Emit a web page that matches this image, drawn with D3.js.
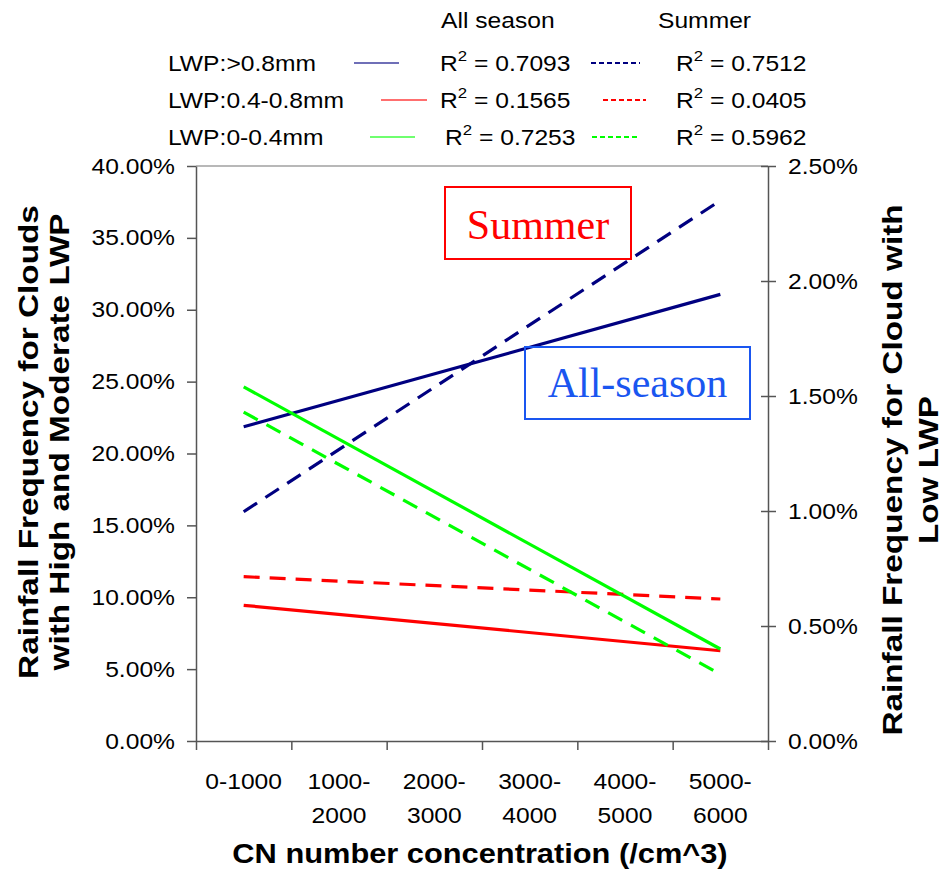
<!DOCTYPE html>
<html>
<head>
<meta charset="utf-8">
<script src="https://cdn.jsdelivr.net/npm/d3@7"></script>
<style>
  body { margin: 0; background: #fff; }
  svg { display: block; font-family: "Liberation Sans", Arial, sans-serif; }
</style>
</head>
<body>
<svg id="chart" width="951" height="870"></svg>
<script>
// categories of CN concentration
var categories = ["0-1000", "1000-2000", "2000-3000", "3000-4000", "4000-5000", "5000-6000"]
var catLines = [["0-1000"], ["1000-", "2000"], ["2000-", "3000"], ["3000-", "4000"], ["4000-", "5000"], ["5000-", "6000"]]

// trend line end points (first and last category)
var trendCats = ["0-1000", "5000-6000"]
var highAll = [0.2186, 0.3107]
var highSummer = [0.1595, 0.3760]
var modAll = [0.0944, 0.0628]
var modSummer = [0.1143, 0.0988]
var lowAll = [0.0154, 0.0040]      // right axis
var lowSummer = [0.0143, 0.0029]   // right axis

var leftTicks = [0, 0.05, 0.10, 0.15, 0.20, 0.25, 0.30, 0.35, 0.40]
var rightTicks = [0, 0.005, 0.010, 0.015, 0.020, 0.025]

var legendRows = [
    { label: "LWP:>0.8mm", color: "#000080", allR2: "0.7093", sumR2: "0.7512" },
    { label: "LWP:0.4-0.8mm", color: "#ff0000", allR2: "0.1565", sumR2: "0.0405" },
    { label: "LWP:0-0.4mm", color: "#00ff00", allR2: "0.7253", sumR2: "0.5962" }
]

var svg = d3.select("#chart")

// text in the original is a little wider than Arial
var SX = 1.12

var pLeft = 196, pRight = 768, pTop = 166, pBottom = 741

var x = d3.scaleBand().domain(categories).range([pLeft, pRight])
var xb = d3.scaleLinear().domain([0, categories.length]).range([pLeft, pRight])
var yL = d3.scaleLinear().domain([0, 0.4]).range([pBottom, pTop])
var yR = d3.scaleLinear().domain([0, 0.025]).range([pBottom, pTop])

// frame: gray top line
svg.append("line")
    .attr("x1", pLeft).attr("x2", pRight)
    .attr("y1", pTop).attr("y2", pTop)
    .attr("stroke", "#a0a0a0").attr("stroke-width", 1.5)

// left axis
var gL = svg.append("g").attr("transform", `translate(${pLeft},0)`)
    .call(d3.axisLeft(yL).tickValues(leftTicks).tickFormat(d3.format(".2%")).tickSize(9).tickSizeOuter(0))
gL.select(".domain").attr("stroke", "#555").attr("stroke-width", 1.5)
gL.selectAll(".tick line").attr("stroke", "#555").attr("stroke-width", 1.5)
gL.selectAll(".tick text")
    .attr("x", 0)
    .attr("transform", `translate(-21,0) scale(${SX},1)`)
    .style("font-size", "22px")
    .style("font-family", "'Liberation Sans', Arial, sans-serif")
    .attr("fill", "#000")

// right axis, ticks crossing
var gR = svg.append("g").attr("transform", `translate(${pRight},0)`)
    .call(d3.axisRight(yR).tickValues(rightTicks).tickFormat(d3.format(".2%")).tickSize(8).tickSizeOuter(0))
gR.select(".domain").attr("stroke", "#555").attr("stroke-width", 1.5)
gR.selectAll(".tick line").attr("x1", -7).attr("x2", 8).attr("stroke", "#555").attr("stroke-width", 1.5)
gR.selectAll(".tick text")
    .attr("x", 0)
    .attr("transform", `translate(20,0) scale(${SX},1)`)
    .style("font-size", "22px")
    .style("font-family", "'Liberation Sans', Arial, sans-serif")
    .attr("fill", "#000")

// bottom axis: ticks at band edges
var gB = svg.append("g").attr("transform", `translate(0,${pBottom})`)
    .call(d3.axisBottom(xb).ticks(categories.length).tickFormat("").tickSize(9).tickSizeOuter(0))
gB.select(".domain").attr("stroke", "#555").attr("stroke-width", 1.5)
gB.selectAll(".tick line").attr("stroke", "#555").attr("stroke-width", 1.5)

// category labels, wrapped
svg.append("g").selectAll("text")
    .data(categories)
    .join("text")
    .attr("text-anchor", "middle")
    .style("font-size", "22px")
    .attr("transform", d => `translate(${x(d) + x.bandwidth() / 2},789) scale(${SX},1)`)
    .each(function(d, i) {
        d3.select(this).selectAll("tspan")
            .data(catLines[i])
            .join("tspan")
            .attr("x", 0)
            .attr("y", (t, j) => j * 34)
            .text(t => t)
    })

// axis titles
svg.append("text")
    .attr("transform", `translate(480,863) scale(1.1,1)`)
    .attr("text-anchor", "middle")
    .style("font-size", "28px").style("font-weight", "bold")
    .text("CN number concentration (/cm^3)")

var lt = svg.append("text")
    .attr("transform", "translate(0,442) rotate(-90) scale(1.19,1)")
    .attr("text-anchor", "middle")
    .style("font-size", "28px").style("font-weight", "bold")
lt.append("tspan").attr("x", 0).attr("y", 38).text("Rainfall Frequency for Clouds")
lt.append("tspan").attr("x", 0).attr("y", 69).text("with High and Moderate LWP")

var rt = svg.append("text")
    .attr("transform", "translate(0,470) rotate(-90) scale(1.19,1)")
    .attr("text-anchor", "middle")
    .style("font-size", "28px").style("font-weight", "bold")
rt.append("tspan").attr("x", 0).attr("y", 902).text("Rainfall Frequency for Cloud with")
rt.append("tspan").attr("x", 0).attr("y", 938).text("Low LWP")

// trend lines
var cx = d => x(d) + x.bandwidth() / 2
var series = [
    { vals: highAll, scale: yL, color: "#000080", dash: null },
    { vals: highSummer, scale: yL, color: "#000080", dash: "16,10" },
    { vals: modAll, scale: yL, color: "#ff0000", dash: null },
    { vals: modSummer, scale: yL, color: "#ff0000", dash: "16,10" },
    { vals: lowAll, scale: yR, color: "#00ff00", dash: null },
    { vals: lowSummer, scale: yR, color: "#00ff00", dash: "16,10" }
]

svg.append("g").selectAll("path")
    .data(series)
    .join("path")
    .attr("fill", "none")
    .attr("stroke", d => d.color)
    .attr("stroke-width", 3.2)
    .attr("stroke-dasharray", d => d.dash)
    .attr("d", s => d3.line()
        .x((v, i) => cx(trendCats[i]))
        .y(v => s.scale(v))(s.vals))

// annotation boxes
function box(x0, y0, w, h, color, label, base) {
    svg.append("rect")
        .attr("x", x0).attr("y", y0).attr("width", w).attr("height", h)
        .attr("fill", "none").attr("stroke", color).attr("stroke-width", 2)
    svg.append("text")
        .attr("x", x0 + w / 2).attr("y", base)
        .attr("text-anchor", "middle")
        .attr("fill", color)
        .style("font-family", "'Liberation Serif', 'Times New Roman', serif")
        .style("font-size", "42px")
        .text(label)
}
box(445, 187, 186, 72, "#ff0000", "Summer", 239)
box(525, 347, 225, 72, "#1a56f0", "All-season", 397)

// legend
var LS = 22
svg.append("text").attr("transform", `translate(441,28) scale(${SX},1)`).style("font-size", LS + "px").text("All season")
svg.append("text").attr("transform", `translate(658,28) scale(${SX},1)`).style("font-size", LS + "px").text("Summer")

var lg = svg.append("g").selectAll("g")
    .data(legendRows)
    .join("g")
    .attr("transform", (d, i) => `translate(0,${63 + i * 37})`)

lg.append("text").attr("transform", `translate(168,8) scale(${SX},1)`).style("font-size", LS + "px").text(d => d.label)
lg.append("line")
    .attr("x1", (d, i) => [354, 381, 370][i]).attr("x2", (d, i) => [399, 427, 415][i])
    .attr("stroke", d => d.color).attr("stroke-width", 1.6).attr("opacity", 0.75)
lg.append("line")
    .attr("x1", (d, i) => [591, 603, 592][i]).attr("x2", (d, i) => [640, 646, 640][i])
    .attr("stroke", d => d.color).attr("stroke-width", 2).attr("stroke-dasharray", "5,3")

function r2(sel, xPos, key) {
    var t = sel.append("text")
        .attr("transform", (d, i) => `translate(${typeof xPos === "function" ? xPos(d, i) : xPos},8) scale(${SX},1)`)
        .style("font-size", LS + "px")
    t.append("tspan").text("R")
    t.append("tspan").attr("dy", -10).style("font-size", "15px").text("2")
    t.append("tspan").attr("dy", 10).text(d => " = " + d[key])
}
r2(lg, (d, i) => [440, 440, 445][i], "allR2")
r2(lg, 676, "sumR2")
</script>
</body>
</html>
